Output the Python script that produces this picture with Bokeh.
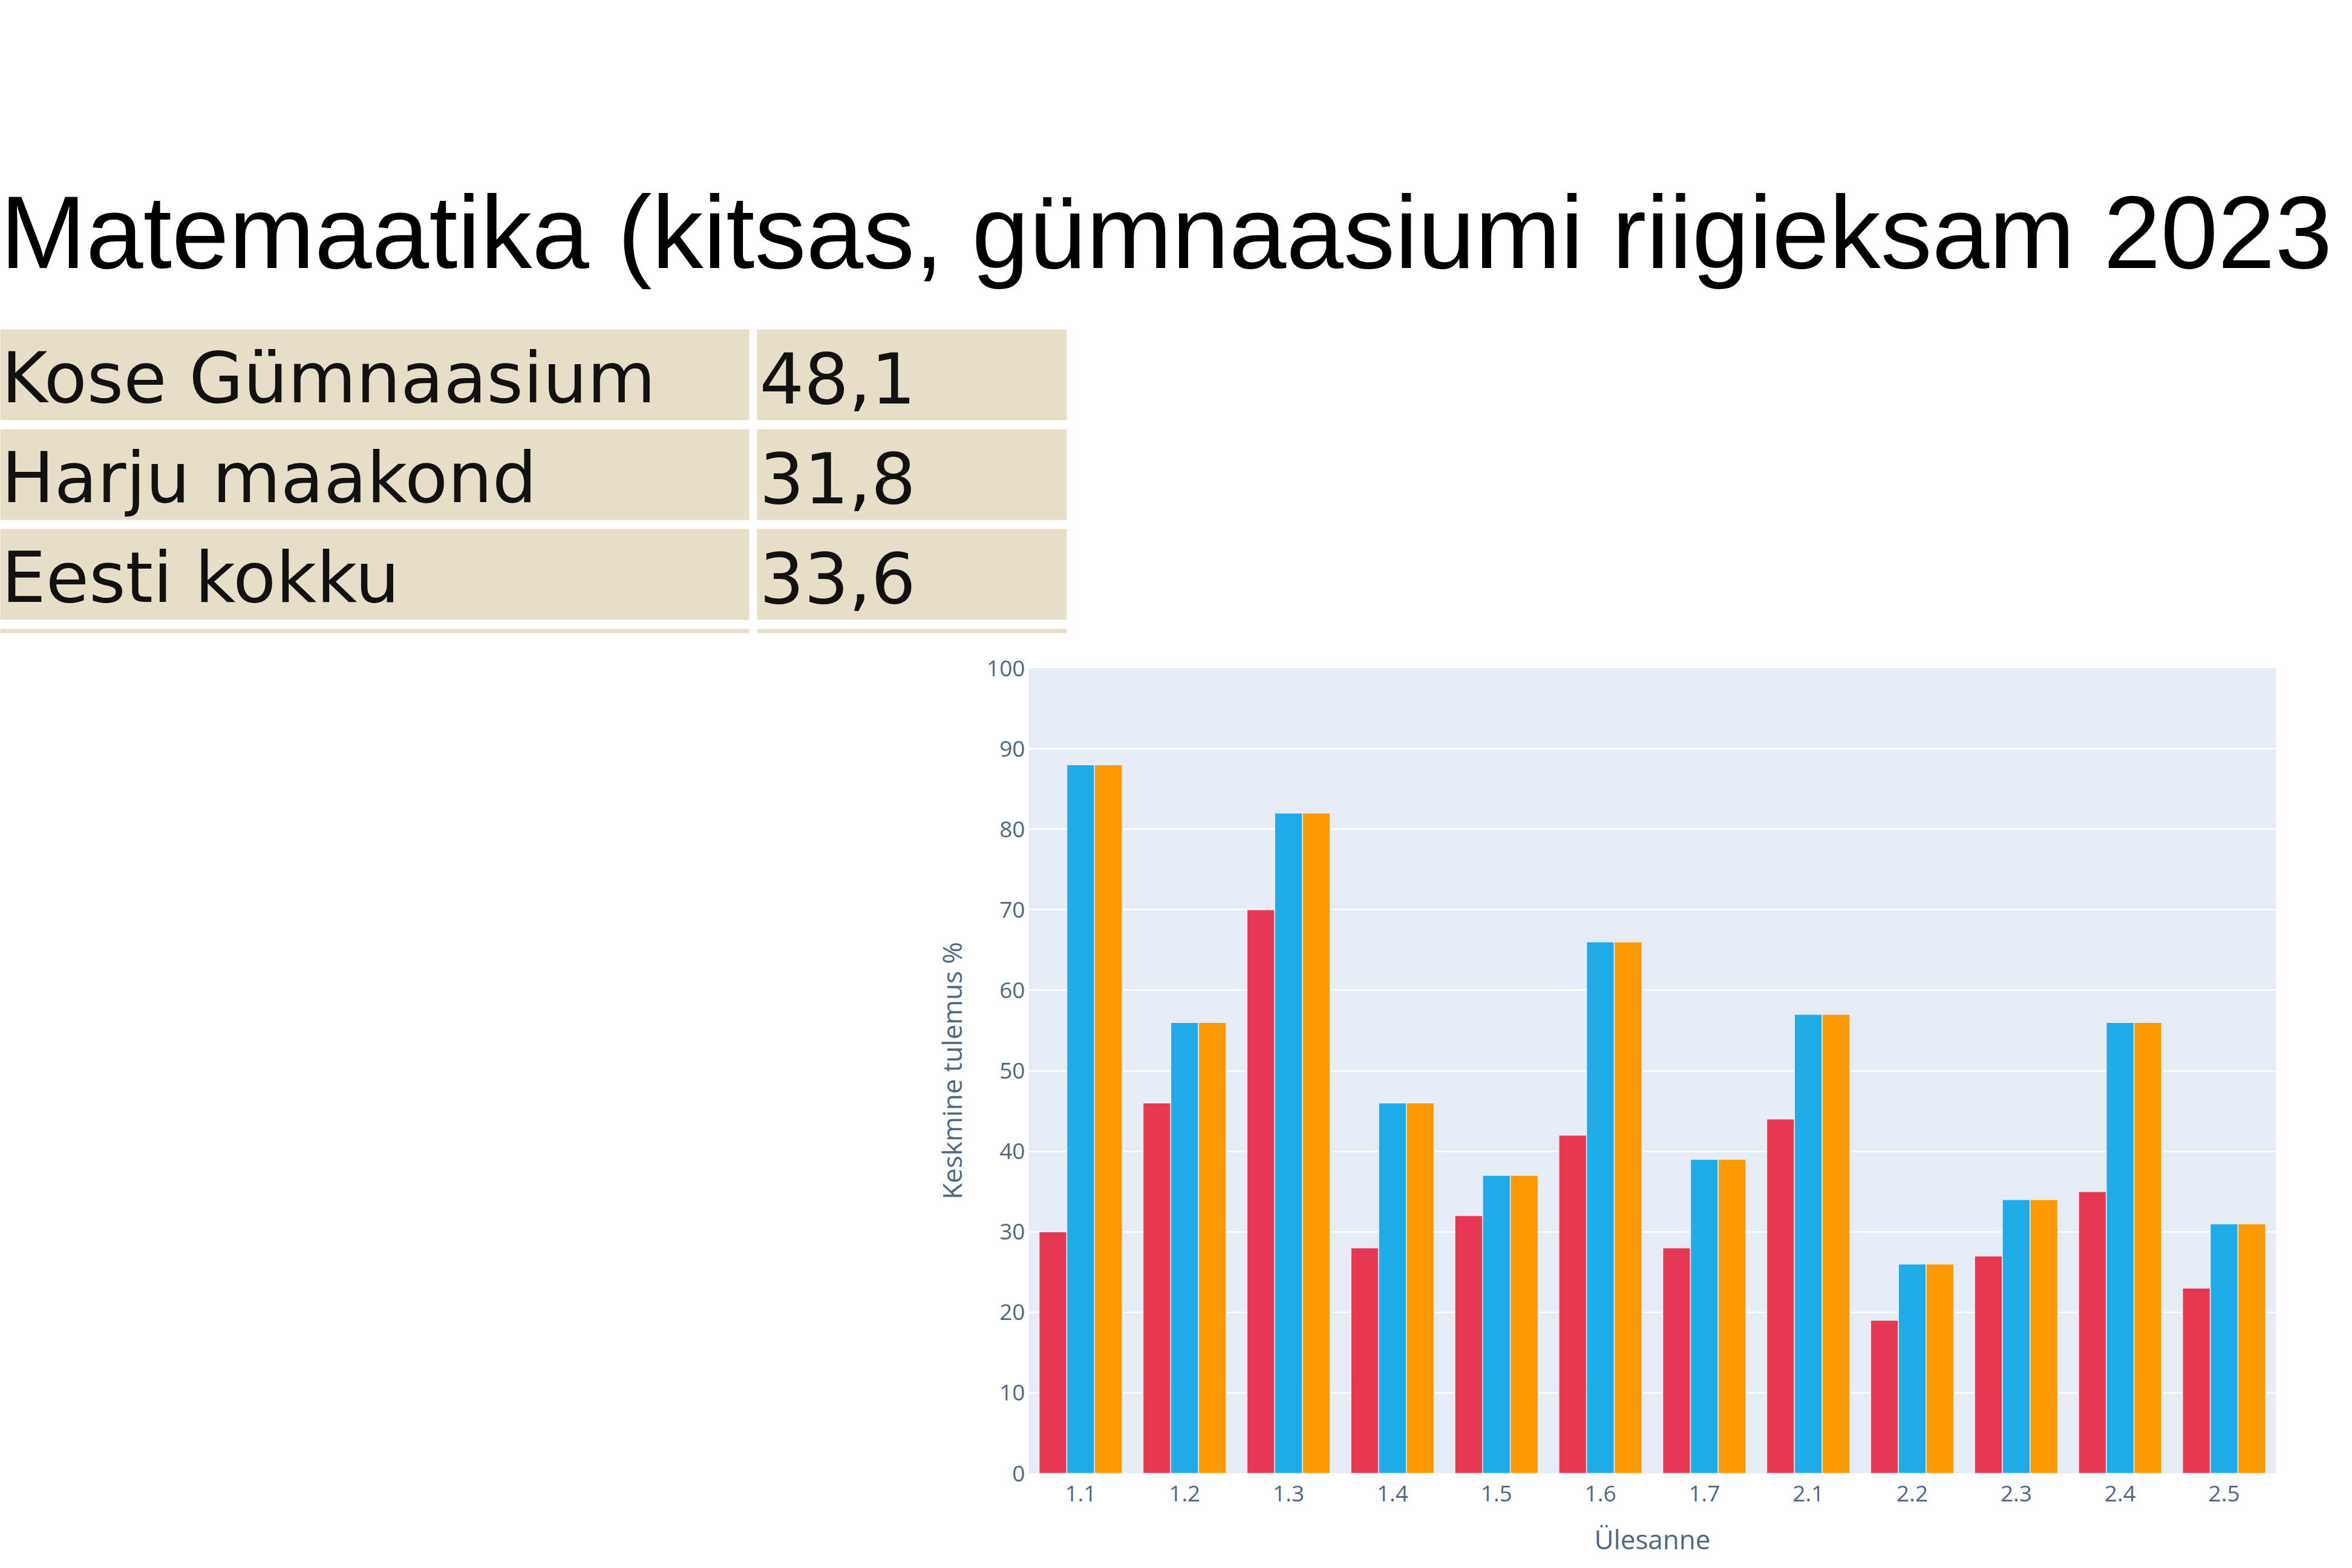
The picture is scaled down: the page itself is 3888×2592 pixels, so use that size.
from bokeh.plotting import figure
from bokeh.models import (Range1d, FactorRange, FixedTicker, Legend, LegendItem,
                          ColumnDataSource, Spacer)
from bokeh.layouts import column, row
from bokeh.transform import dodge
from bokeh.core.properties import value
from bokeh.embed import file_html
from bokeh.resources import INLINE

# ---------------- data ----------------
title_text = "Matemaatika (kitsas, gümnaasiumi riigieksam 2023"

table_labels = ["Kose Gümnaasium", "Harju maakond", "Eesti kokku"]
table_values = [48.1, 31.8, 33.6]

tasks = ["1.1", "1.2", "1.3", "1.4", "1.5", "1.6", "1.7", "2.1", "2.2", "2.3", "2.4", "2.5"]
series_red = [30, 46, 70, 28, 32, 42, 28, 44, 19, 27, 35, 23]
series_blue = [88, 56, 82, 46, 37, 66, 39, 57, 26, 34, 56, 31]
series_orange = [88, 56, 82, 46, 37, 66, 39, 57, 26, 34, 56, 31]
y_ticks = [0, 10, 20, 30, 40, 50, 60, 70, 80, 90, 100]

x_title = "Ülesanne"
y_title = "Keskmine tulemus %"

# ---------------- styles ----------------
RED = "#E83750"
BLUE = "#1FAAE8"
ORANGE = "#FC9A00"
PLOT_BG = "#E5ECF6"
TICK_COLOR = "#506784"
CELL_FILL = "#E6DEC6"

W = 3872
H1 = 1072

# ---------------- header (title + table) ----------------
hdr = figure(width=W, height=H1, x_range=Range1d(0, W), y_range=Range1d(H1, 0),
             output_backend="svg", toolbar_location=None, x_axis_type=None,
             y_axis_type=None, min_border=0)
hdr.grid.visible = False
hdr.outline_line_color = None
hdr.background_fill_color = "white"
hdr.border_fill_color = "white"

hdr.text(x=[0], y=[383], text=[title_text], text_font=value("Liberation Sans"),
         text_font_size="170px", text_baseline="alphabetic", text_align="left",
         text_color="#000000")

T0, PITCH, RH = 544, 165, 150
col_left = [-8, 1251]
col_right = [1238, 1763]
lefts, rights, tops, bottoms = [], [], [], []
n_rows = len(table_labels)
for i in range(n_rows):
    for c in range(2):
        lefts.append(col_left[c]); rights.append(col_right[c])
        tops.append(T0 + i * PITCH); bottoms.append(T0 + i * PITCH + RH)
# partially visible next row (cut off in the slide)
for c in range(2):
    lefts.append(col_left[c]); rights.append(col_right[c])
    tops.append(T0 + n_rows * PITCH); bottoms.append(T0 + n_rows * PITCH + 7)
hdr.quad(left=lefts, right=rights, top=tops, bottom=bottoms,
         fill_color=CELL_FILL, line_color=None)

txt_y = [T0 + i * PITCH + 80 for i in range(n_rows)]
hdr.text(x=[2] * n_rows, y=txt_y, text=table_labels,
         text_font=value("DejaVu Sans"), text_font_size="116px",
         text_baseline="alphabetic", text_align="left", text_color="#111111")
val_txt = [f"{v:.1f}".replace(".", ",") for v in table_values]
hdr.text(x=[col_left[1] + 4] * n_rows, y=txt_y, text=val_txt,
         text_font=value("DejaVu Sans"), text_font_size="116px",
         text_baseline="alphabetic", text_align="left", text_color="#111111")

# ---------------- chart ----------------
SP = 1480
LW = 100
CW = W - SP - LW
CH = 2576 - H1
p = figure(width=CW, height=CH, x_range=FactorRange(factors=tasks, range_padding=0),
           y_range=Range1d(0, 100), output_backend="svg", toolbar_location=None,
           min_border_left=220, min_border_right=10, min_border_top=32,
           min_border_bottom=141)
p.background_fill_color = PLOT_BG
p.border_fill_color = "white"
p.outline_line_color = None

src = ColumnDataSource(dict(task=tasks, red=series_red, blue=series_blue, orange=series_orange))
bw = 0.8 / 3
bar_colors = [RED, BLUE, ORANGE]
bar_fields = ["red", "blue", "orange"]
offsets = [-bw, 0, bw]
for fld, col, off in zip(bar_fields, bar_colors, offsets):
    p.vbar(x=dodge("task", off, range=p.x_range), top=fld, width=bw, source=src,
           fill_color=col, line_color=PLOT_BG, line_width=1.5)

p.xgrid.visible = False
p.yaxis.ticker = FixedTicker(ticks=y_ticks)
p.ygrid.grid_line_color = "white"
p.ygrid.grid_line_width = 2.5

for ax in (p.xaxis[0], p.yaxis[0]):
    ax.axis_line_color = None
    ax.major_tick_line_color = None
    ax.minor_tick_line_color = None
    ax.major_tick_out = 0
    ax.major_tick_in = 0
    ax.minor_tick_out = 0
    ax.major_label_text_font = "Open Sans"
    ax.major_label_text_font_size = "37px"
    ax.major_label_text_color = TICK_COLOR
    ax.axis_label_text_font = "Open Sans"
    ax.axis_label_text_font_size = "44px"
    ax.axis_label_text_font_style = "normal"
    ax.axis_label_text_color = TICK_COLOR

p.xaxis.axis_label = x_title
p.yaxis.axis_label = y_title
p.xaxis.major_label_standoff = 20
p.xaxis.axis_label_standoff = 29
p.yaxis.major_label_standoff = 6
p.yaxis.axis_label_standoff = 25

# ---------------- legend strip (swatches only; labels are cut off in the slide) -------
lg = figure(width=LW, height=CH, x_range=Range1d(0, 1), y_range=Range1d(0, 1),
            output_backend="svg", toolbar_location=None, x_axis_type=None,
            y_axis_type=None, min_border=0)
lg.grid.visible = False
lg.outline_line_color = None
lg.background_fill_color = "white"
lg.border_fill_color = "white"
items = []
for col in bar_colors:
    rr = lg.vbar(x=[], top=[], width=0.1, fill_color=col, line_color=None)
    items.append(LegendItem(label=" ", renderers=[rr]))
legend = Legend(items=items, location=(LW - 42, 1304), orientation="vertical",
                glyph_width=30, glyph_height=30, label_height=30, label_width=0,
                spacing=25, padding=0, margin=0, border_line_color=None,
                background_fill_alpha=0, label_standoff=0,
                label_text_font_size="10px")
lg.add_layout(legend, "center")

layout = column(hdr, row(Spacer(width=SP, height=CH), p, lg))

open("out.html", "w").write(file_html(layout, INLINE))
